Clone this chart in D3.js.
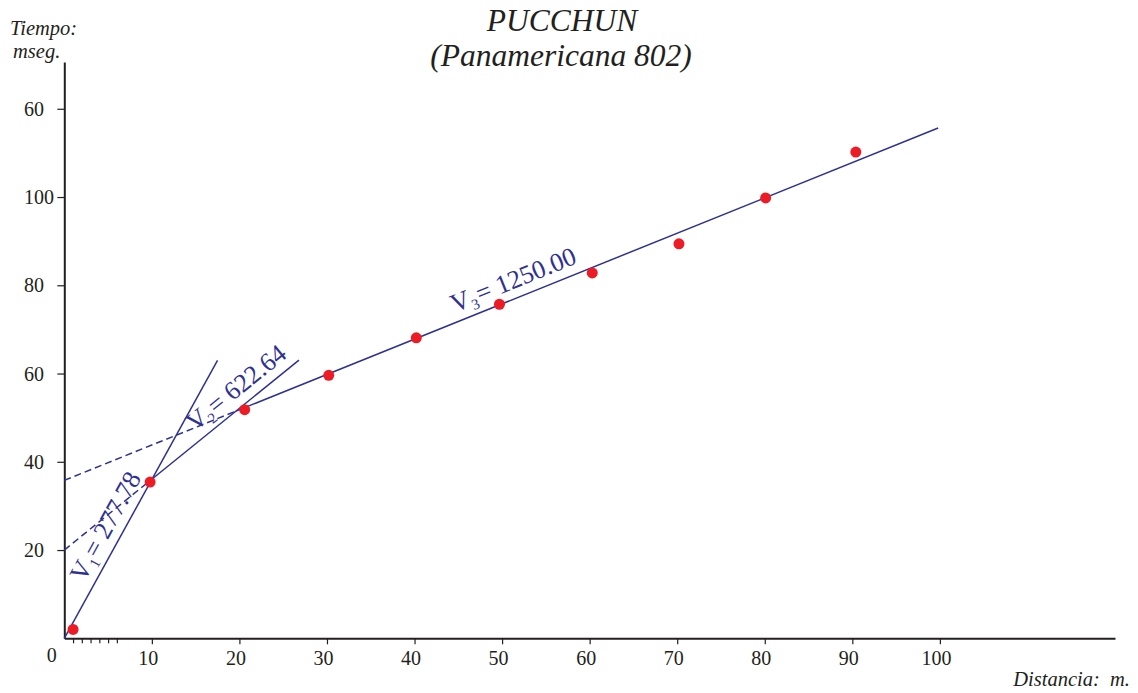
<!DOCTYPE html>
<html>
<head>
<meta charset="utf-8">
<script src="https://cdn.jsdelivr.net/npm/d3@7"></script>
<style>
  html, body { margin: 0; padding: 0; background: #ffffff; }
  svg { display: block; font-family: "Liberation Serif", "Times New Roman", serif; }
</style>
</head>
<body>
<svg id="chart" width="1138" height="693"></svg>
<script>
// First-arrival picks: geophone offset (m) and travel time (ms)
const distances    = [1, 9.8, 20.6, 30.2, 40.2, 49.7, 60.3, 70.2, 80.1, 90.4];
const arrivalTimes = [2, 35.4, 51.8, 59.6, 68.1, 75.7, 82.8, 89.4, 99.8, 110.2];

// Fitted refraction segments: velocity (m/s), intercept time (ms), far end (m)
const layerIndex      = ["1", "2", "3"];
const layerVelocities = [277.78, 622.64, 1250.00];
const layerIntercepts = [0, 20, 35.8];
const layerEnds       = [17.5, 26.8, 99.8];

// Axis ticks
const xTickValues = [10, 20, 30, 40, 50, 60, 70, 80, 90, 100];
const xMinorTicks = [1, 2, 3, 4, 5, 6];
const yTickValues = [20, 40, 60, 80, 100, 120];
const yTickLabels = ["20", "40", "60", "80", "100", "60"];

// ---- layout ----
const ink = "#231f20", navy = "#2e3192", red = "#ed1c24";
const serif = "Liberation Serif, Times New Roman, serif";
const svg = d3.select("#chart");

const x = d3.scaleLinear().domain([0, 120]).range([64.3, 1115]);
const y = d3.scaleLinear().domain([0, 130.6]).range([638.3, 62]);

// Title
svg.append("text")
  .attr("x", 562).attr("y", 31)
  .attr("text-anchor", "middle")
  .attr("font-style", "italic").attr("font-size", 31.5)
  .attr("fill", ink)
  .text("PUCCHUN");
svg.append("text")
  .attr("x", 561).attr("y", 66)
  .attr("text-anchor", "middle")
  .attr("font-style", "italic").attr("font-size", 31.5)
  .attr("fill", ink)
  .text("(Panamericana 802)");

// Y axis
const yAxis = svg.append("g")
  .attr("transform", `translate(${x(0)},0)`)
  .call(d3.axisLeft(y)
    .tickValues(yTickValues)
    .tickFormat((d, i) => yTickLabels[i])
    .tickSize(7)
    .tickSizeOuter(0))
  .attr("font-family", serif);
yAxis.select(".domain").attr("stroke", ink).attr("stroke-width", 2);
yAxis.selectAll(".tick line").attr("stroke", ink).attr("stroke-width", 1.2);
yAxis.selectAll(".tick text")
  .attr("text-anchor", "start")
  .attr("x", 24 - x(0))
  .attr("dy", "0.33em")
  .attr("font-size", 20)
  .attr("fill", ink);

// X axis
const xAxis = svg.append("g")
  .attr("transform", `translate(0,${y(0)})`)
  .call(d3.axisBottom(x)
    .tickValues(xTickValues)
    .tickSize(6)
    .tickSizeOuter(0))
  .attr("font-family", serif);
xAxis.select(".domain").attr("stroke", ink).attr("stroke-width", 2);
xAxis.selectAll(".tick line").attr("stroke", ink).attr("stroke-width", 1.2);
xAxis.selectAll(".tick text")
  .attr("y", 27).attr("dy", 0).attr("dx", -4)
  .attr("font-size", 20)
  .attr("fill", ink);

// Minor ticks near the origin
const xMinor = svg.append("g")
  .attr("transform", `translate(0,${y(0)})`)
  .call(d3.axisBottom(x).tickValues(xMinorTicks).tickSize(5).tickFormat(""));
xMinor.select(".domain").remove();
xMinor.selectAll(".tick line").attr("stroke", ink).attr("stroke-width", 1.2);

// Origin label
svg.append("text")
  .attr("x", x(0) - 12.5).attr("y", 662)
  .attr("text-anchor", "middle")
  .attr("font-size", 20).attr("fill", ink)
  .text("0");

// Axis titles
svg.append("text")
  .attr("x", 10).attr("y", 35)
  .attr("font-style", "italic").attr("font-size", 20.5).attr("fill", ink)
  .text("Tiempo:");
svg.append("text")
  .attr("x", 13).attr("y", 58)
  .attr("font-style", "italic").attr("font-size", 20.5).attr("fill", ink)
  .text("mseg.");
svg.append("text")
  .attr("x", 1130).attr("y", 686)
  .attr("text-anchor", "end")
  .attr("font-style", "italic").attr("font-size", 20.5).attr("fill", ink)
  .style("white-space", "pre")
  .text("Distancia:  m.");

// Travel-time segments: t = intercept + distance / velocity
const slope = i => 1000 / layerVelocities[i];
const timeAt = (i, d) => layerIntercepts[i] + slope(i) * d;
const line = d3.line().x(p => x(p[0])).y(p => y(p[1]));

const segG = svg.append("g").attr("fill", "none").attr("stroke", navy).attr("stroke-width", 1.5);
layerVelocities.forEach((v, i) => {
  // crossover with the previous (slower) segment
  const start = i === 0 ? 0
    : (layerIntercepts[i] - layerIntercepts[i - 1]) / (slope(i - 1) - slope(i));
  if (start > 0) {
    segG.append("path")
      .attr("d", line([[0, timeAt(i, 0)], [start, timeAt(i, start)]]))
      .attr("stroke-dasharray", "7,4");
  }
  segG.append("path")
    .attr("d", line([[start, timeAt(i, start)], [layerEnds[i], timeAt(i, layerEnds[i])]]));
});

// Velocity labels set along each segment
const labelAt = [3.2, 15.6, 45.0];   // distance (m) where each label starts
const labelGap = 9.5;                // px above the segment
layerVelocities.forEach((v, i) => {
  const d0 = labelAt[i];
  const px = x(d0), py = y(timeAt(i, d0));
  const ang = Math.atan2(y(timeAt(i, 1)) - y(timeAt(i, 0)), x(1) - x(0));
  const nx = Math.sin(ang) * labelGap, ny = -Math.cos(ang) * labelGap;
  const t = svg.append("text")
    .attr("transform", `translate(${px + nx},${py + ny}) rotate(${ang * 180 / Math.PI})`)
    .attr("font-size", 26).attr("fill", navy);
  t.append("tspan").text("V");
  t.append("tspan").attr("dy", 5).attr("font-size", 15).text(layerIndex[i]);
  t.append("tspan").attr("dy", -5).attr("dx", 1).text("= " + v.toFixed(2));
});

// Observed arrivals
svg.append("g").selectAll("circle")
  .data(distances.map((d, i) => [d, arrivalTimes[i]]))
  .join("circle")
  .attr("cx", d => x(d[0]))
  .attr("cy", d => y(d[1]))
  .attr("r", 5.5)
  .attr("fill", red);
</script>
</body>
</html>
